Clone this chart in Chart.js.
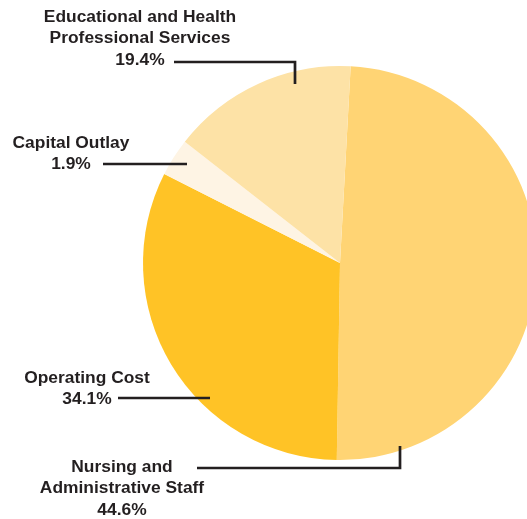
<!DOCTYPE html>
<html>
<head>
<meta charset="utf-8">
<script src="https://cdn.jsdelivr.net/npm/chart.js@4.4.0/dist/chart.umd.min.js"></script>
<style>
    html, body { margin: 0; padding: 0; background: #fff; overflow: hidden; }
    #wrap { position: relative; width: 560px; height: 519px; }
</style>
</head>
<body>
<div id="wrap"><canvas id="graph-budget"></canvas></div>
<script>
const categories = ['Nursing and Administrative Staff', 'Operating Cost', 'Capital Outlay', 'Educational and Health Professional Services'];
const valeurs = [49.4, 32.2, 3.1, 15.3];
const pourcentages = ['44.6%', '34.1%', '1.9%', '19.4%'];
const couleurs = ['#FFD474', '#FFC326', '#FEF4E4', '#FDE2A6'];

// Étiquettes : lignes de texte + tracé de la ligne de rappel
const etiquettes = [
    { lignes: ['Nursing and', 'Administrative Staff', pourcentages[0]], x: 122, y: 467, trait: [[197, 468], [400, 468], [400, 446]] },
    { lignes: ['Operating Cost', pourcentages[1]], x: 87, y: 378, trait: [[118, 398], [210, 398]] },
    { lignes: ['Capital Outlay', pourcentages[2]], x: 71, y: 143, trait: [[103, 164], [187, 164]] },
    { lignes: ['Educational and Health', 'Professional Services', pourcentages[3]], x: 140, y: 17, trait: [[174, 62], [295, 62], [295, 84]] }
];

const pluginEtiquettes = {
    id: 'etiquettes',
    afterDraw(chart) {
        const ctx = chart.ctx;
        ctx.save();
        ctx.fillStyle = '#231f20';
        ctx.strokeStyle = '#231f20';
        ctx.lineWidth = 2.7;
        ctx.font = 'bold 17.4px "Liberation Sans", Arial, sans-serif';
        ctx.textAlign = 'center';
        ctx.textBaseline = 'middle';
        etiquettes.forEach(e => {
            e.lignes.forEach((l, i) => ctx.fillText(l, e.x, e.y + i * 21.5));
            ctx.beginPath();
            e.trait.forEach((p, i) => i === 0 ? ctx.moveTo(p[0], p[1]) : ctx.lineTo(p[0], p[1]));
            ctx.stroke();
        });
        ctx.restore();
    }
};

new Chart(document.getElementById('graph-budget').getContext('2d'), {
    type: 'pie',
    data: {
        labels: categories,
        datasets: [{
            data: valeurs,
            backgroundColor: couleurs,
            borderWidth: 0
        }]
    },
    options: {
        responsive: true,
        maintainAspectRatio: false,
        animation: false,
        rotation: 3.1,
        layout: { padding: { left: 143, right: 23, top: 66, bottom: 59 } },
        plugins: {
            legend: { display: false },
            tooltip: { enabled: false }
        }
    },
    plugins: [pluginEtiquettes]
});
</script>
</body>
</html>
